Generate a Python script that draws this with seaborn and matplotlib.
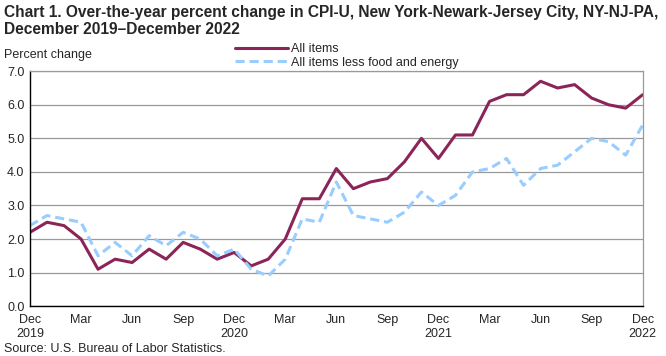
import pandas as pd
import seaborn as sns
import matplotlib.pyplot as plt

# Over-the-year percent change, Dec 2019 - Dec 2022 (monthly)
months = pd.date_range("2019-12-01", "2022-12-01", freq="MS")

all_items = [2.2, 2.5, 2.4, 2.0, 1.1, 1.4, 1.3, 1.7, 1.4, 1.9, 1.7, 1.4,
             1.6, 1.2, 1.4, 2.0, 3.2, 3.2, 4.1, 3.5, 3.7, 3.8, 4.3, 5.0,
             4.4, 5.1, 5.1, 6.1, 6.3, 6.3, 6.7, 6.5, 6.6, 6.2, 6.0, 5.9,
             6.3]
core = [2.4, 2.7, 2.6, 2.5, 1.5, 1.9, 1.5, 2.1, 1.8, 2.2, 2.0, 1.5,
        1.7, 1.1, 0.9, 1.4, 2.6, 2.5, 3.7, 2.7, 2.6, 2.5, 2.8, 3.4,
        3.0, 3.3, 4.0, 4.1, 4.4, 3.6, 4.1, 4.2, 4.6, 5.0, 4.9, 4.5,
        5.4]

series_names = ["All items", "All items less food and energy"]
colors = ["#8B2557", "#99CCFF"]

tick_labels = []
for i, m in enumerate(months):
    if i % 3 == 0:
        if m.month == 12:
            tick_labels.append(m.strftime("%b") + "\n" + str(m.year))
        else:
            tick_labels.append(m.strftime("%b"))
    else:
        tick_labels.append("")

sns.set_style("white")
plt.rcParams['font.family'] = ['Liberation Sans', 'DejaVu Sans']

fig = plt.figure(figsize=(6.66, 3.56), dpi=100)
ax = fig.add_axes([0.045, 0.14, 0.92, 0.66])

x = list(range(len(months)))
sns.lineplot(x=x, y=all_items, ax=ax, color=colors[0], linewidth=2.2,
             label=series_names[0])
sns.lineplot(x=x, y=core, ax=ax, color=colors[1], linewidth=2.2,
             linestyle=(0, (3, 1.6)), label=series_names[1])

ax.set_xlim(0, len(months) - 1)
ax.set_ylim(0, 7)
ax.set_yticks([i * 1.0 for i in range(8)])
ax.set_yticklabels([f"{v:.1f}" for v in range(8)], fontsize=9)
ax.set_xticks(x)
ax.set_xticklabels(tick_labels, fontsize=9)
ax.tick_params(axis='x', direction='inout', length=7, width=0.9, color='black', pad=2)
ax.tick_params(axis='y', length=0, pad=4)
ax.grid(axis='y', color='#999999', linewidth=0.9)
ax.set_axisbelow(True)

for side in ['left', 'bottom']:
    ax.spines[side].set_color('black')
    ax.spines[side].set_linewidth(1.0)
for side in ['top', 'right']:
    ax.spines[side].set_color('#999999')
    ax.spines[side].set_linewidth(0.9)

ax.legend(loc='lower left', bbox_to_anchor=(0.335, 1.01), frameon=False,
          fontsize=9, handlelength=4.2, handletextpad=0.3, labelspacing=0.12,
          borderaxespad=0, borderpad=0)

fig.text(0.006, 0.985, "Chart 1. Over-the-year percent change in CPI-U, New York-Newark-Jersey City, NY-NJ-PA,\nDecember 2019\u2013December 2022",
         fontsize=11.2, fontweight='bold', va='top', ha='left', linespacing=1.1)
fig.text(0.006, 0.845, "Percent change", fontsize=9, va='center', ha='left')
fig.text(0.006, 0.02, "Source: U.S. Bureau of Labor Statistics.", fontsize=9, va='center', ha='left')

fig.savefig("out.png", dpi=100)
